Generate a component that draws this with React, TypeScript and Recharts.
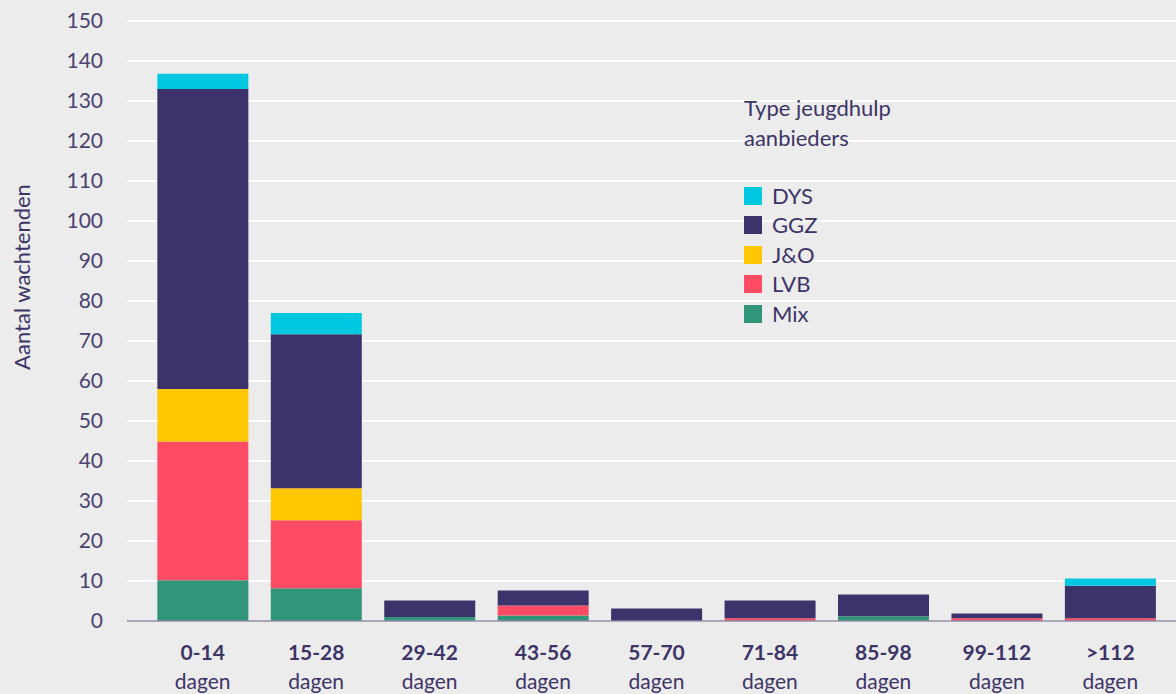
import React from 'react';
import {
    BarChart,
    Bar,
    XAxis,
    YAxis,
    CartesianGrid,
} from 'recharts';

const categories = ['0-14', '15-28', '29-42', '43-56', '57-70', '71-84', '85-98', '99-112', '>112'];
const mix = [10.2, 8.2, 1, 1.4, 0, 0, 1.2, 0, 0];
const lvb = [34.7, 17, 0, 2.5, 0, 0.7, 0, 0.7, 0.7];
const jo = [13.1, 8, 0, 0, 0, 0, 0, 0, 0];
const ggz = [75, 38.5, 4.1, 3.7, 3.1, 4.4, 5.4, 1.2, 8.1];
const dys = [3.8, 5.3, 0, 0, 0, 0, 0, 0, 1.8];
const yTicks = [0, 10, 20, 30, 40, 50, 60, 70, 80, 90, 100, 110, 120, 130, 140, 150];

const series = [
    { key: 'Mix', color: '#319679' },
    { key: 'LVB', color: '#ff4b64' },
    { key: 'J&O', color: '#ffc700' },
    { key: 'GGZ', color: '#3d336b' },
    { key: 'DYS', color: '#00c8e0' },
];
const legendOrder = ['DYS', 'GGZ', 'J&O', 'LVB', 'Mix'];

const TEXT = '#3d3468';
const FONT = 'Lato, "Noto Sans", sans-serif';

const chartData = categories.map((c, i) => ({
    name: c,
    Mix: mix[i],
    LVB: lvb[i],
    'J&O': jo[i],
    GGZ: ggz[i],
    DYS: dys[i],
}));

function XTick({ x, y, payload }: any) {
    return (
        <g>
            <text x={x} y={y + 39} textAnchor="middle" fontSize={21} fontWeight={700} fill={TEXT} fontFamily={FONT}>
                {payload.value}
            </text>
            <text x={x} y={y + 68} textAnchor="middle" fontSize={21} fill={TEXT} fontFamily={FONT}>
                dagen
            </text>
        </g>
    );
}

function LegendBox() {
    return (
        <div
            style={{
                position: 'absolute',
                left: 744,
                top: 93,
                fontFamily: FONT,
                color: TEXT,
                fontSize: 22,
                lineHeight: '30px',
            }}
        >
            <div>Type jeugdhulp</div>
            <div>aanbieders</div>
            <div style={{ height: 28 }} />
            {legendOrder.map(k => {
                const s = series.find(d => d.key === k)!;
                return (
                    <div key={k} style={{ display: 'flex', alignItems: 'center', height: 29.5 }}>
                        <span style={{ width: 18, height: 18, background: s.color, display: 'inline-block', marginRight: 10 }} />
                        <span>{k}</span>
                    </div>
                );
            })}
        </div>
    );
}

export default function App() {
    return (
        <div style={{ position: 'absolute', left: 0, top: 0, width: 1176, height: 694, background: '#ececec' }}>
            <BarChart
                width={1176}
                height={694}
                data={chartData}
                margin={{ top: 21, right: 0, bottom: 0, left: 0 }}
                barCategoryGap="10%"
            >
                <CartesianGrid vertical={false} stroke="#ffffff" strokeWidth={2} />
                <XAxis
                    dataKey="name"
                    padding={{ left: 19, right: 9 }}
                    tickLine={false}
                    tickSize={0}
                    tickMargin={0}
                    axisLine={{ stroke: '#8e8aa3', strokeWidth: 1.5 }}
                    tick={<XTick />}
                    height={73}
                    interval={0}
                />
                <YAxis
                    width={127}
                    domain={[0, 150]}
                    ticks={yTicks}
                    interval={0}
                    axisLine={false}
                    tickLine={false}
                    tickSize={0}
                    tickMargin={24}
                    tick={{ fontSize: 21, fill: '#4a4272', fontFamily: FONT }}
                    label={{
                        content: () => (
                            <text
                                transform="translate(30,277) rotate(-90)"
                                textAnchor="middle"
                                fontSize={22}
                                fill={TEXT}
                                fontFamily={FONT}
                            >
                                Aantal wachtenden
                            </text>
                        ),
                    }}
                />
                {series.map(s => (
                    <Bar key={s.key} dataKey={s.key} stackId="a" fill={s.color} isAnimationActive={false} />
                ))}
            </BarChart>
            <LegendBox />
        </div>
    );
}
